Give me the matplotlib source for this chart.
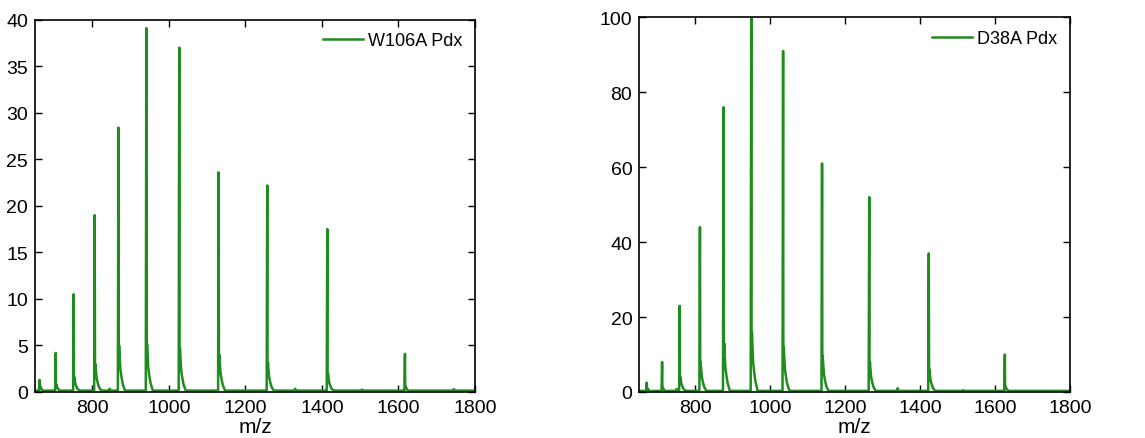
import numpy as np
import matplotlib
matplotlib.use('Agg')
import matplotlib.pyplot as plt

plt.rcParams['font.family'] = ['Liberation Sans', 'DejaVu Sans']

# W106A Pdx: peak centre (m/z), apex height, shoulder height (right-side adduct tail)
w106_mz = [662, 704, 751, 806, 868, 941, 1027, 1130, 1257, 1414, 1617]
w106_top = [1.3, 4.2, 10.5, 19.0, 28.4, 39.1, 37.0, 23.6, 22.2, 17.5, 4.1]
w106_shoulder = [0.6, 0.8, 1.6, 3.0, 5.0, 5.2, 4.7, 4.0, 3.2, 2.0, 0.6]
w106_minor_mz = [845, 1330, 1505, 1745]
w106_minor = [0.35, 0.35, 0.25, 0.3]
w106_base = 0.15

# D38A Pdx
d38_mz = [670, 711, 758, 812, 875, 949, 1034, 1138, 1264, 1423, 1626]
d38_top = [2.5, 8.0, 23.0, 44.0, 76.0, 100.0, 91.0, 61.0, 52.0, 37.0, 10.0]
d38_shoulder = [1.0, 1.2, 4.0, 8.0, 13.0, 16.0, 12.0, 9.5, 8.0, 6.0, 1.5]
d38_minor_mz = [750, 1340, 1515]
d38_minor = [0.8, 1.0, 0.5]
d38_base = 0.3

green = '#1e8c1e'


def spectrum(mz, top, shoulder, minor_mz, minor, base):
    xs, ys = [650], [base]
    peaks = [(c, h, s) for c, h, s in zip(mz, top, shoulder)]
    peaks += [(c, h, 0) for c, h in zip(minor_mz, minor)]
    for c, h, s in sorted(peaks):
        if s > 0:
            xs += [c - 1.5, c, c + 0.8, c + 1.8, c + 3, c + 5, c + 7.5, c + 11, c + 17]
            ys += [base, h, s * 0.6, s, s * 0.8, s * 0.5, s * 0.35, s * 0.18, base]
        else:
            xs += [c - 2, c, c + 2]
            ys += [base, h, base]
    xs.append(1800)
    ys.append(base)
    return xs, ys


fig = plt.figure(figsize=(11.45, 4.39), dpi=100)
ax1 = fig.add_axes([0.0306, 0.1048, 0.3842, 0.848])
ax2 = fig.add_axes([0.5583, 0.1048, 0.3762, 0.8535])

panels = [
    (ax1, spectrum(w106_mz, w106_top, w106_shoulder, w106_minor_mz, w106_minor, w106_base),
     'W106A Pdx', 40, np.arange(0, 41, 5)),
    (ax2, spectrum(d38_mz, d38_top, d38_shoulder, d38_minor_mz, d38_minor, d38_base),
     'D38A Pdx', 100, np.arange(0, 101, 20)),
]

for ax, (xs, ys), label, ymax, yticks in panels:
    ax.plot(xs, ys, color=green, lw=1.8, label=label)
    ax.set_xlim(650, 1800)
    ax.set_ylim(0, ymax)
    ax.set_xticks([800, 1000, 1200, 1400, 1600, 1800])
    ax.set_yticks(yticks)
    ax.tick_params(direction='in', top=True, right=True, length=5, width=1,
                   labelsize=14, pad=5)
    for sp in ax.spines.values():
        sp.set_linewidth(1.2)
    ax.set_xlabel('m/z', fontsize=15, labelpad=1)
    ax.legend(loc='upper right', frameon=False, fontsize=13, handlelength=2.2,
              handletextpad=0.3, borderaxespad=0.3)

fig.savefig('out.png', dpi=100)
